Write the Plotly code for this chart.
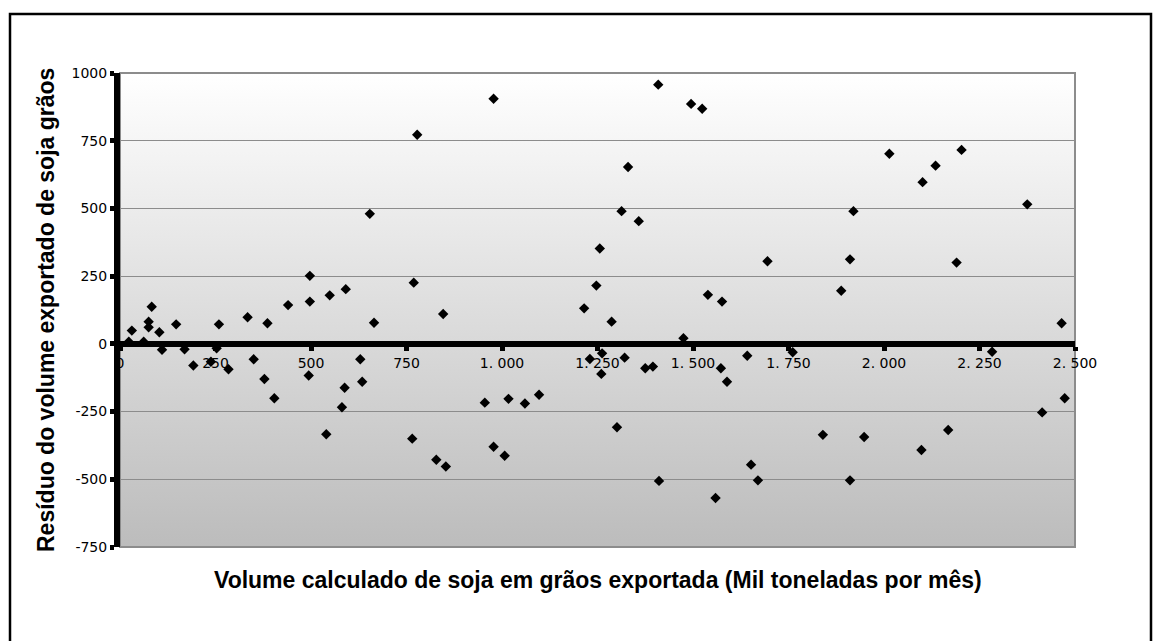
import base64
import plotly.graph_objects as go

# Residuals vs. fitted export volume (thousand tonnes per month)
volume_calc = [
    83, 31, 75, 75, 103, 23, 62, 110, 147, 169, 192, 238, 259, 253, 284, 334, 350, 378, 386, 404,
    440, 497, 494, 497, 629, 665, 588, 634, 581, 540, 549, 591, 654, 769, 778, 765, 846, 828, 853,
    978, 955, 1017, 1060, 1097, 978, 1007, 1215, 1287, 1230, 1262, 1321, 1260, 1375, 1395, 1247,
    1256, 1301, 1313, 1330, 1358, 1409, 1411, 1475, 1495, 1524, 1539, 1576, 1573, 1589, 1559,
    1642, 1652, 1670, 1695, 1761, 1840, 1888, 1911, 1920, 1911, 1948, 2014, 2098, 2101, 2135,
    2168, 2190, 2203, 2283, 2375, 2414, 2465, 2473,
]
residuo = [
    137, 49, 82, 61, 43, 8, 8, -22, 72, -20, -80, -66, 72, -16, -94, 98, -57, -130, 76, -201,
    143, 156, -117, 251, -57, 78, -162, -140, -234, -334, 179, 202, 480, 226, 772, -350, 110, -428, -453,
    905, -217, -203, -220, -188, -380, -413, 131, 82, -56, -35, -51, -111, -90, -84, 215,
    352, -308, 490, 653, 453, 957, -506, 21, 886, 868, 181, 156, -90, -140, -569,
    -44, -446, -504, 305, -31, -336, 196, 312, 490, -504, -344, 702, -392, 597, 658,
    -318, 300, 716, -29, 515, -253, 76, -201,
]

x_ticks = [0, 250, 500, 750, 1000, 1250, 1500, 1750, 2000, 2250, 2500]
x_ticktext = ["0", "250", "500", "750", "1. 000", "1. 250", "1. 500", "1. 750", "2. 000", "2. 250", "2. 500"]
y_ticks = [-750, -500, -250, 0, 250, 500, 750, 1000]
y_ticktext = ["-750", "-500", "-250", "0", "250", "500", "750", "1000"]

x_title = "Volume calculado de soja em grãos exportada (Mil toneladas por mês)"
y_title = "Resíduo do volume exportado de soja grãos"

W, H = 1161, 641
L, R, T, B = 120, 86, 73, 94
plot_w, plot_h = W - L - R, H - T - B


def px_x(p):
    return (p - L) / plot_w


def px_y(p):
    return (H - B - p) / plot_h


# vertical white-to-grey gradient for the plotting area
svg = (
    '<svg xmlns="http://www.w3.org/2000/svg" width="100" height="100" '
    'viewBox="0 0 100 100" preserveAspectRatio="none">'
    '<defs><linearGradient id="g" x1="0" y1="0" x2="0" y2="1">'
    '<stop offset="0" stop-color="#ffffff"/><stop offset="1" stop-color="#bcbcbc"/>'
    '</linearGradient></defs><rect width="100" height="100" fill="url(#g)"/></svg>'
)
grad_src = "data:image/svg+xml;base64," + base64.b64encode(svg.encode()).decode()

fig = go.Figure()
fig.add_trace(go.Scatter(
    x=volume_calc, y=residuo, mode="markers",
    marker=dict(symbol="diamond", size=8, color="black"),
    hoverinfo="x+y", showlegend=False, cliponaxis=False,
))

y_range = [-750, 1000]
zero_pos = (0 - y_range[0]) / (y_range[1] - y_range[0])

fig.update_layout(
    width=W, height=H, autosize=False,
    margin=dict(l=L, r=R, t=T, b=B, pad=0),
    paper_bgcolor="white", plot_bgcolor="rgba(0,0,0,0)",
    font=dict(family="DejaVu Sans", size=14, color="black"),
    xaxis=dict(
        range=[0, 2500], tickvals=x_ticks, ticktext=x_ticktext,
        showgrid=False, zeroline=False,
        anchor="free", position=zero_pos,
        showline=True, linewidth=6, linecolor="black",
        ticks="outside", ticklen=4, tickwidth=5, tickcolor="black",
        tickfont=dict(family="DejaVu Sans", size=14, color="black"),
    ),
    yaxis=dict(
        range=y_range, tickvals=y_ticks, ticktext=y_ticktext,
        showgrid=True, gridcolor="#8c8c8c", gridwidth=1, zeroline=False,
        showline=True, linewidth=6, linecolor="black",
        ticks="outside", ticklen=4, tickwidth=5, tickcolor="black",
        tickfont=dict(family="DejaVu Sans", size=14, color="black"),
    ),
    images=[dict(
        source=grad_src, xref="paper", yref="paper", x=0, y=1,
        sizex=1, sizey=1, sizing="stretch", layer="below", xanchor="left", yanchor="top",
    )],
    shapes=[
        # plot area border
        dict(type="rect", xref="paper", yref="paper", x0=0, y0=0, x1=1, y1=1,
             line=dict(color="#8c8c8c", width=2), fillcolor="rgba(0,0,0,0)", layer="below"),
        # outer chart frame
        dict(type="rect", xref="paper", yref="paper",
             x0=px_x(10), x1=px_x(1151), y0=px_y(648), y1=px_y(14),
             line=dict(color="black", width=2.5), fillcolor="rgba(0,0,0,0)", layer="above"),
    ],
    annotations=[
        dict(text="<b>" + x_title + "</b>", xref="paper", yref="paper",
             x=0.5, y=px_y(580), xanchor="center", yanchor="middle", showarrow=False,
             font=dict(family="Liberation Sans", size=23, color="black")),
        dict(text="<b>" + y_title + "</b>", xref="paper", yref="paper",
             x=px_x(46), y=0.5, xanchor="center", yanchor="middle", showarrow=False,
             textangle=-90, font=dict(family="Liberation Sans", size=23, color="black")),
    ],
)

fig.write_html("out.html")
